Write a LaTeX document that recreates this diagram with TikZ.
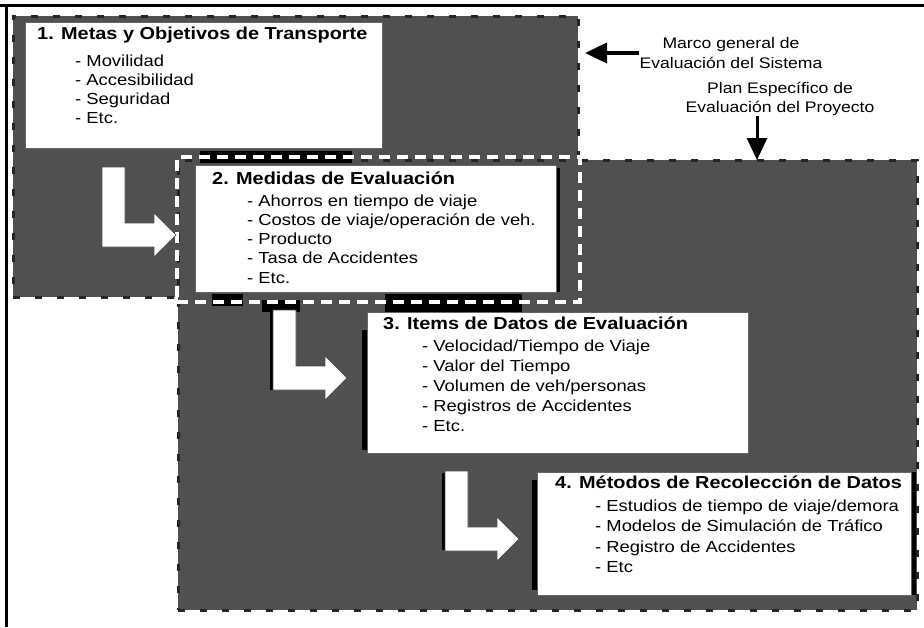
\documentclass[tikz,border=0pt]{standalone}
\usepackage{fontspec}
\setmainfont[FakeStretch=1.15]{Liberation Sans}
\usetikzlibrary{arrows.meta}
\definecolor{regiongray}{RGB}{80,80,80}
\newcommand\itemrows[1]{\begin{tabular}[t]{@{}l@{}}#1\end{tabular}}
\begin{document}
\begin{tikzpicture}[x=1pt,y=-1pt,
  region/.style={anchor=north west, inner sep=0pt, outer sep=0pt, fill=regiongray,
    draw=black!85, line width=3pt, dash pattern=on 7pt off 15pt},
  overlapframe/.style={anchor=north west, inner sep=0pt, outer sep=0pt,
    draw=white, line width=3.5pt, dash pattern=on 11pt off 7pt},
  whitebox/.style={anchor=north west, inner sep=0pt, outer sep=0pt, fill=white,
    draw=black!60, line width=0.7pt},
  boxtitle/.style={anchor=base west, inner sep=0pt, font=\fontsize{17.3}{20}\selectfont\bfseries},
  boxitems/.style={anchor=base west, inner sep=0pt, font=\fontsize{16}{#1}\selectfont},
  sidelabel/.style={align=center, inner sep=0pt, font=\fontsize{15.3}{19.5}\selectfont},
  bigarrow/.style={line width=4pt, -{Triangle[length=22pt,width=20pt]}},
  shadowbar/.style={fill=black},
  larrow/.pic={
    \fill[white, draw=black!70, line width=0.7pt]
      (0,0) -- (23,0) -- (23,56) -- (52,56) -- (52,46) -- (74,68)
      -- (52,90) -- (52,80) -- (0,80) -- cycle;
  }
]
\useasboundingbox (0,0) rectangle (924,627);
\fill[white] (0,0) rectangle (924,627);

% outer frame lines
\draw[line width=3pt] (0,5) -- (924,5);
\draw[line width=3pt] (6,5) -- (6,627);

% the two evaluation frames
\node[region, minimum width=565pt, minimum height=281pt] (frameA) at (13,16) {};
\node[region, minimum width=739pt, minimum height=450pt] (frameB) at (178,160) {};

% dark bands around the shared part
\fill[shadowbar] (200,151) rectangle (352,163);
\fill[shadowbar] (212,294) rectangle (243,306);
\fill[shadowbar] (262,300) rectangle (300,312);
\fill[shadowbar] (385,294) rectangle (522,312);

\node[overlapframe, minimum width=403pt, minimum height=145pt] (overlap) at (177,157) {};

% shadows behind the content boxes
\fill[shadowbar] (554,168) rectangle (560,292);
\fill[shadowbar] (362,330) rectangle (368,450);
\fill[shadowbar] (532,480) rectangle (538,590);
\fill[shadowbar] (910,472) rectangle (916,595);

% content boxes
\node[whitebox, minimum width=357pt, minimum height=126pt] (box1) at (25,22) {};
\node[whitebox, minimum width=361pt, minimum height=127pt] (box2) at (195,165) {};
\node[whitebox, minimum width=381pt, minimum height=141pt] (box3) at (367,312) {};
\node[whitebox, minimum width=374pt, minimum height=123pt] (box4) at (537,472) {};

% block arrows between the steps
\fill[black] (270,310) rectangle (274,390);
\fill[black] (442,473) rectangle (446,550);
\pic at (102,167) {larrow};
\pic at (273,310) {larrow};
\pic at (445,471) {larrow};

% box texts
\node[boxtitle] (t1) at (37,39) {1. Metas y Objetivos de Transporte};
\node[boxitems=19.3] (l1) at (75,66) {\itemrows{- Movilidad\\- Accesibilidad\\- Seguridad\\- Etc.}};

\node[boxtitle] (t2) at (212,184) {2. Medidas de Evaluación};
\node[boxitems=19.3] (l2) at (247,206) {\itemrows{- Ahorros en tiempo de viaje\\- Costos de viaje/operación de veh.\\- Producto\\- Tasa de Accidentes\\- Etc.}};

\node[boxtitle] (t3) at (383,329) {3. Items de Datos de Evaluación};
\node[boxitems=20] (l3) at (422,351) {\itemrows{- Velocidad/Tiempo de Viaje\\- Valor del Tiempo\\- Volumen de veh/personas\\- Registros de Accidentes\\- Etc.}};

\node[boxtitle] (t4) at (555,488) {4. Métodos de Recolección de Datos};
\node[boxitems=20.5] (l4) at (595,511) {\itemrows{- Estudios de tiempo de viaje/demora\\- Modelos de Simulación de Tráfico\\- Registro de Accidentes\\- Etc}};

% frame labels
\node[sidelabel] (labelA) at (731,53) {Marco general de\\Evaluación del Sistema};
\node[sidelabel] (labelB) at (780,99) {Plan Específico de\\Evaluación del Proyecto};

\draw[bigarrow, shorten >=7pt] (labelA.west) -- (frameA.east |- labelA.west);
\draw[bigarrow, line width=3pt] ([xshift=-23pt]labelB.south) -- ([xshift=-23pt]labelB.south |- frameB.north);
\end{tikzpicture}
\end{document}
